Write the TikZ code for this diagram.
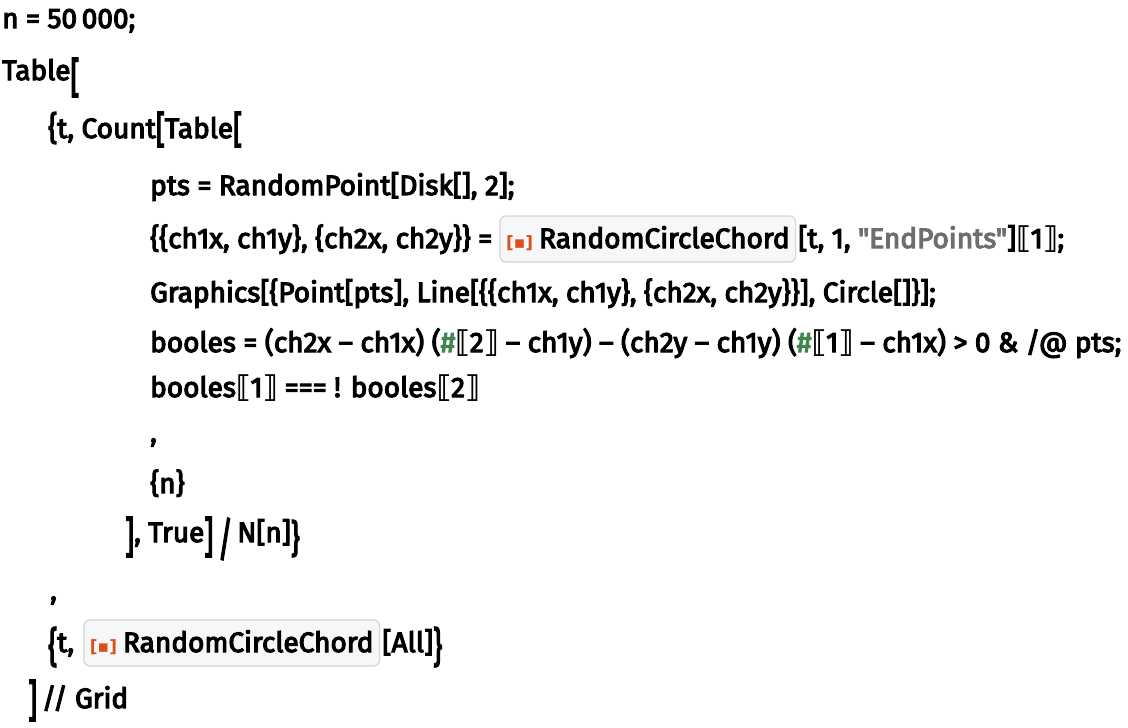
\documentclass[tikz,border=0pt]{standalone}
\usepackage{fontspec}
\usepackage{graphicx}
\usetikzlibrary{positioning}
\newfontfamily\codefont{Fira Sans}[FakeBold=4]
\newfontfamily\symfont{DejaVu Sans}
\definecolor{strgray}{RGB}{110,110,110}
\definecolor{hashgreen}{RGB}{64,134,79}
\definecolor{iconred}{RGB}{219,79,28}
\definecolor{boxfill}{RGB}{246,247,248}
\definecolor{boxedge}{RGB}{211,212,214}
% grown delimiters: height above baseline, depth below, glyph
\newcommand\tall[3]{\raisebox{-#2pt}{\resizebox{\width}{\dimexpr #1pt+#2pt\relax}{\raisebox{\depth}{#3}}}}
\newcommand\dblpart[1]{{\symfont\bfseries\fontsize{30}{32}\selectfont ⟦}#1{\symfont\bfseries\fontsize{30}{32}\selectfont ⟧}}
\newcommand\hashslot{\textcolor{hashgreen}{\#}}
\newcommand\rcicon{{\color{iconred}\symfont\bfseries\fontsize{17}{17}\selectfont[▪]}\hspace{6pt}}
\tikzset{
  code/.style={anchor=base west, inner sep=0pt, font=\codefont\fontsize{28}{32}\selectfont},
  chordbox/.style={code, draw=boxedge, fill=boxfill, rounded corners=6pt, line width=1.2pt,
    inner xsep=6pt, text height=18pt, text depth=0pt, minimum height=46pt},
}
\begin{document}
\begin{tikzpicture}[x=1pt,y=-1pt]
	\useasboundingbox (0,0) rectangle (1128,728);
	\node[code] (n-def) at (2,28) {n = 50\,000;};
	\node[code] (tab-1) at (2,80) {Table\tall{22}{17}{[}};
	\node[code] (cnt) at (48,138) {\tall{26}{6}{\{}t, Count\tall{26}{9}{[}Table\tall{26}{9}{[}};
	% body of the inner Table
	\node[code] (pts) at (150,195) {pts = RandomPoint[Disk[], 2];};
	\node[code] (ends) at (150,248) {\{\{ch1x, ch1y\}, \{ch2x, ch2y\}\} =};
	\node[chordbox] (rcc-1) at ([xshift=7pt]ends.base east) {\rcicon RandomCircleChord};
	\node[code] (ends-2) at ([xshift=2pt]rcc-1.base east) {[t, 1, \textcolor{strgray}{"EndPoints"}]\dblpart{1};};
	\node[code] (gfx) at (150,302) {Graphics[\{Point[pts], Line[\{\{ch1x, ch1y\}, \{ch2x, ch2y\}\}], Circle[]\}];};
	\node[code] (bool-1) at (150,352) {booles = (ch2x – ch1x) (\hashslot\dblpart{2} – ch1y) – (ch2y – ch1y) (\hashslot\dblpart{1} – ch1x) > 0 \& /@ pts;};
	\node[code] (bool-2) at (150,397) {booles\dblpart{1} === ! booles\dblpart{2}};
	\node[code] (comma-1) at (150,442) {,};
	\node[code] (iter-1) at (150,493) {\{n\}};
	\node[code] (tru) at (125,542) {\tall{25}{15}{]}, True\tall{25}{15}{]}\,\tall{24}{18}{/}\,N[n]\tall{22}{15}{\}}};
	% second column of the Grid
	\node[code] (comma-2) at (50,600) {,};
	\node[code] (all-1) at (48,652) {\tall{25}{15}{\{}t,};
	\node[chordbox] (rcc-2) at ([xshift=9pt]all-1.base east) {\rcicon RandomCircleChord};
	\node[code] (all-2) at ([xshift=2pt]rcc-2.base east) {[All]\tall{25}{15}{\}}};
	\node[code] (grid) at (28,708) {\tall{28}{13}{]}\,// Grid};
\end{tikzpicture}
\end{document}
